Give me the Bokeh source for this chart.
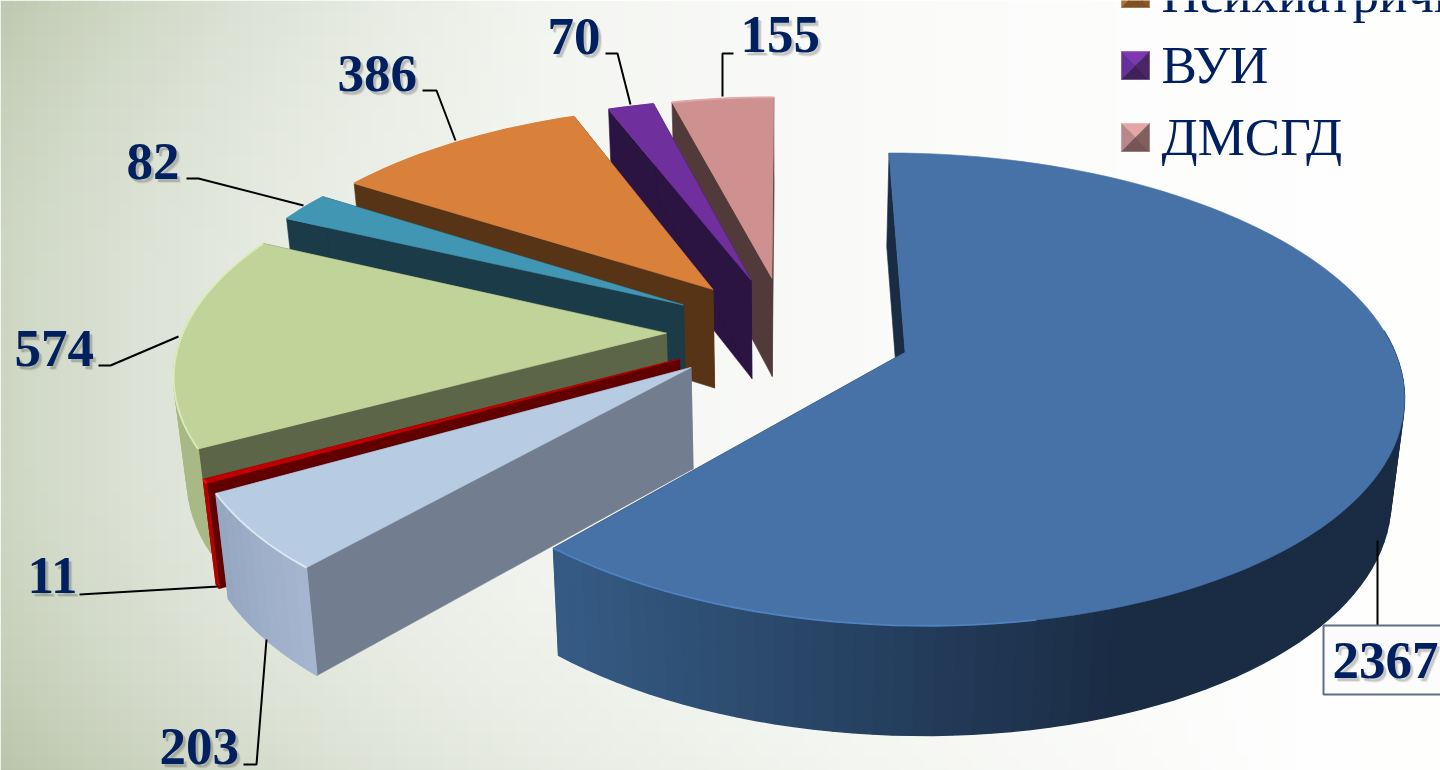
import math
from bokeh.plotting import figure
from bokeh.models import Range1d
from bokeh.core.properties import value
from bokeh.embed import file_html
from bokeh.resources import INLINE

# ---- data ----
categories = ["Хирургични", "Детски", "Очни", "Вътрешни", "Кожни", "Психиатрични", "ВУИ", "ДМСГД"]
values = [2367, 203, 11, 574, 82, 386, 70, 155]
explode = [125, 120, 120, 120, 120, 120, 120, 120]
legend_labels = ["Психиатрични", "ВУИ", "ДМСГД"]

# ---- styles: top, cut face, rim start, rim end, edge highlight ----
top_col = ["#4672A8", "#B7CBE2", "#C00000", "#C0D398", "#4197B3", "#D9803B", "#6F2F9C", "#CF9090"]
face_col = ["#1A2C44", "#727E90", "#600000", "#5D6548", "#1A3B47", "#583416", "#2B1342", "#523A3A"]
rim_a = ["#365C86", "#A5B5CF", "#C00000", "#A9B986", "#2F7086", "#A8622C", "#4A2068", "#9A6C6C"]
rim_b = ["#1A2C44", "#93A5BF", "#A00000", "#A9B986", "#2F7086", "#A8622C", "#4A2068", "#9A6C6C"]
edge_col = ["#4E82C0", "#DCE8F4", "#F01010", "#DCEBB4", "#4197B3", "#D9803B", "#6F2F9C", "#E0A8A8"]

W, H = 1440, 770
p = figure(width=W, height=H, output_backend="svg", toolbar_location=None,
           x_range=Range1d(0, W), y_range=Range1d(H, 0), min_border=0)
p.axis.visible = False
p.grid.visible = False
p.outline_line_color = None
p.background_fill_color = "white"
p.border_fill_color = "white"


def mix(a, b, t):
    t = max(0.0, min(1.0, t))
    ca = [int(a[i:i + 2], 16) for i in (1, 3, 5)]
    cb = [int(b[i:i + 2], 16) for i in (1, 3, 5)]
    return "#%02x%02x%02x" % tuple(round(ca[i] + (cb[i] - ca[i]) * t) for i in range(3))


# ---- background: soft sage fade, strongest towards the left corners ----
def shade(x, y):
    base = 0.68 * math.exp(-x / 390)
    low = max(0.0, (y - 450) / 320) ** 2 * 0.28 * max(0.0, 1 - x / 1300)
    high = max(0.0, (300 - y) / 300) ** 2 * 0.22 * max(0.0, 1 - x / 560)
    return base + low + high


STEP = 12
bx0, bx1, by0, by1, bc = [], [], [], [], []
for gx in range(0, W, STEP):
    for gy in range(0, H, STEP):
        bx0.append(gx)
        bx1.append(gx + STEP + 0.6)
        by0.append(gy)
        by1.append(gy + STEP + 0.6)
        bc.append(mix("#FFFFFF", "#B6C2A6", shade(gx + STEP / 2, gy + STEP / 2)))
p.quad(left=bx0, right=bx1, top=by0, bottom=by1, fill_color=bc, line_color=None)

# ---- projection of the exploded pie ----
CX, CY, Q, K, R, DEPTH, M = 786, 331, 0.464, 0.00032, 483, 100, 0.022


def proj(X, Y, low=False):
    s = 1 / (1 + K * Y)
    x = CX + X * s
    y = CY - Q * Y * s
    if low:
        x = CX + (x - CX) * (1 - M)
        y = y + DEPTH * s ** 0.5
    return x, y


total = sum(values)
start = 0.0
slices = []
for i, v in enumerate(values):
    sweep = v / total * 360
    a0, a1 = math.radians(start), math.radians(start + sweep)
    mid = (a0 + a1) / 2
    ax, ay = explode[i] * math.sin(mid), explode[i] * math.cos(mid)
    n = max(2, int(sweep / 2))
    angs = [a0 + (a1 - a0) * j / n for j in range(n + 1)]
    world = [(ax + R * math.sin(a), ay + R * math.cos(a)) for a in angs]
    top = [proj(*w) for w in world]
    low = [proj(*w, low=True) for w in world]
    apex_t, apex_l = proj(ax, ay), proj(ax, ay, low=True)
    faces = [[apex_t, top[0], low[0], apex_l], [apex_t, top[-1], low[-1], apex_l]]
    face_cols = [face_col[i], face_col[i]]
    rim, rim_cols = [], []
    for j in range(n):
        if math.cos((angs[j] + angs[j + 1]) / 2) <= 0.08:
            t = (top[j][0] - 552) / (1130 - 552) if i == 0 else j / n
            rim.append([top[j], top[j + 1], low[j + 1], low[j]])
            rim_cols.append(mix(rim_a[i], rim_b[i], t))
    if i == 0:  # only the front left of the large slice carries a lit edge
        arc = [q for q, a in zip(top, angs) if math.sin(a) < 0.2 and math.cos(a) < 0]
    else:
        arc = top
    slices.append((faces, face_cols, rim, rim_cols, [apex_t] + top, top_col[i], arc, edge_col[i]))
    start += sweep

# back to front: pink, purple, orange, teal, green, red, light blue, then blue
for faces, fc, rim, rc, wedge, tc, arc, ec in list(reversed(slices[1:])) + [slices[0]]:
    p.patches([[q[0] for q in f] for f in faces], [[q[1] for q in f] for f in faces],
              fill_color=fc, line_color=fc, line_width=0.6)
    if rim:
        p.patches([[q[0] for q in f] for f in rim], [[q[1] for q in f] for f in rim],
                  fill_color=rc, line_color=rc, line_width=1.4)
    p.patch([q[0] for q in wedge], [q[1] for q in wedge], fill_color=tc, line_color=tc, line_width=0.6)
    p.line([q[0] for q in arc], [q[1] for q in arc], line_color=ec, line_width=1.8)

# ---- leaders ----
leaders = [
    ([1377, 1377], [540, 625]),
    ([243, 256, 266], [764, 764, 639]),
    ([79, 218], [594, 586]),
    ([98, 110, 178], [365, 365, 336]),
    ([186, 198, 303], [178, 178, 205]),
    ([422, 436, 455], [90, 90, 140]),
    ([605, 617, 630], [53, 53, 104]),
    ([733, 722, 722], [53, 53, 96]),
]
p.multi_line([l[0] for l in leaders], [l[1] for l in leaders], line_color="black", line_width=2)

# ---- value labels ----
TEXT_DY = -19  # the text glyph sits below its anchor in the rendered page
p.quad(left=[1323], right=[1480], top=[625], bottom=[694], fill_color="#FCFCFC",
       line_color="#5F6F85", line_width=2)
label_x = [1332, 159, 27, 14, 126, 337, 547, 740]
label_y = [679 + TEXT_DY, 765 + TEXT_DY, 594 + TEXT_DY, 367 + TEXT_DY, 180 + TEXT_DY,
           92 + TEXT_DY, 55 + TEXT_DY, 53 + TEXT_DY]
labels = [str(v) for v in values]
for dx, alpha in ((3.5, 0.08), (2.5, 0.14)):
    p.text([x + dx for x in label_x], [y + dx for y in label_y], text=labels,
           text_font=value("Liberation Serif"), text_font_style="bold",
           text_font_size=value("53px"), text_color="#000000", text_alpha=alpha,
           text_baseline="alphabetic", text_align="left")
p.text(label_x, label_y, text=labels, text_font=value("Liberation Serif"), text_font_style="bold",
       text_font_size=value("53px"), text_color="#002060", text_baseline="alphabetic", text_align="left")

# ---- legend ----
leg_top = [-21, 51, 123]
leg_base = [12 + TEXT_DY, 83 + TEXT_DY, 155 + TEXT_DY]
leg_cols = [("#D08238", "#B56E30", "#8A5A28", "#7F5020"),
            ("#7F37AF", "#65309A", "#4A2568", "#3F1F5C"),
            ("#E3A5A5", "#B88787", "#80605F", "#755555")]
mx, my, mc = [], [], []
for t, cols in zip(leg_top, leg_cols):
    l, r, b, cx, cy = 1121, 1149, t + 28, 1135, t + 14
    for tri, c in zip(([(l, t), (r, t)], [(l, t), (l, b)], [(r, t), (r, b)], [(l, b), (r, b)]), cols):
        mx.append([tri[0][0], tri[1][0], cx])
        my.append([tri[0][1], tri[1][1], cy])
        mc.append(c)
p.patches(mx, my, fill_color=mc, line_color=mc, line_width=0.5)
p.text([1161] * 3, leg_base, text=legend_labels, text_font=value("Liberation Serif"),
       text_font_size=value("53px"), text_color="#002060", text_baseline="alphabetic", text_align="left")

open("out.html", "w").write(file_html(p, INLINE))
